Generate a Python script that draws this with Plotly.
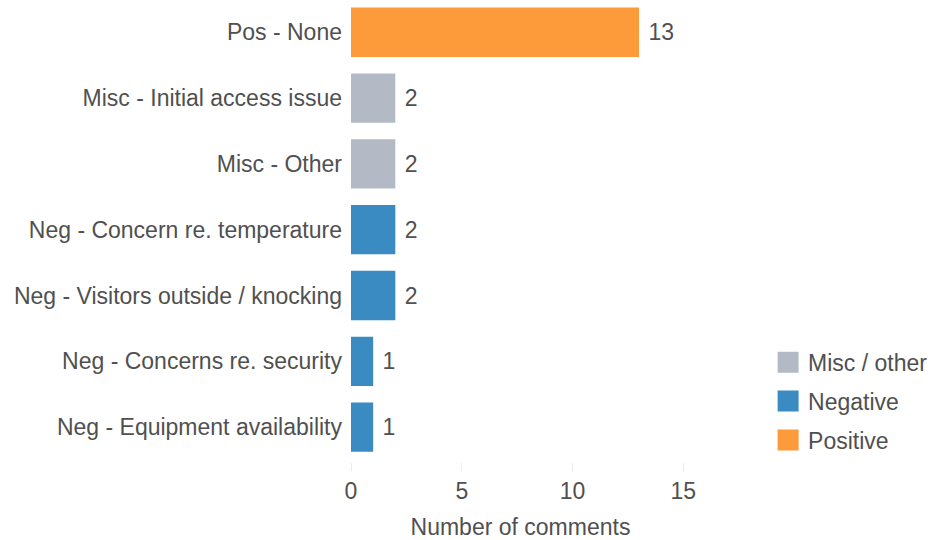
import plotly.graph_objects as go

# Comment themes (bottom to top on the y axis) and how often each was raised
categories = [
    "Neg - Equipment availability",
    "Neg - Concerns re. security",
    "Neg - Visitors outside / knocking",
    "Neg - Concern re. temperature",
    "Misc - Other",
    "Misc - Initial access issue",
    "Pos - None",
]
counts = [1, 1, 2, 2, 2, 2, 13]
groups = ["Negative", "Negative", "Negative", "Negative",
          "Misc / other", "Misc / other", "Positive"]

group_order = ["Misc / other", "Negative", "Positive"]
group_colors = {"Misc / other": "#b4bac5", "Negative": "#3a8bc1", "Positive": "#fd9a3a"}

x_ticks = [0, 5, 10, 15]

FONT = "Liberation Sans, Arial, sans-serif"
TEXT = "#505050"
SIZE = 23

fig = go.Figure()
for g in group_order:
    ys = [c for c, gg in zip(categories, groups) if gg == g]
    xs = [v for v, gg in zip(counts, groups) if gg == g]
    fig.add_trace(go.Bar(
        x=xs, y=ys, orientation="h", name=g, showlegend=False,
        legendgroup=g,
        marker=dict(color=group_colors[g], line=dict(width=0)),
        width=0.75,
        text=[str(v) for v in xs], texttemplate=" %{text}", textposition="outside",
        textfont=dict(size=SIZE, color=TEXT, family=FONT),
        cliponaxis=False,
    ))

# Legend keys: large square swatches, one per group
for g in group_order:
    fig.add_trace(go.Scatter(
        x=[None], y=[None], mode="markers", name=g, legendgroup=g,
        marker=dict(symbol="square", size=16, color=group_colors[g],
                    line=dict(color=group_colors[g], width=5)),
        hoverinfo="skip",
    ))

fig.update_layout(
    width=939, height=540,
    margin=dict(l=351, r=249, t=0, b=78),
    plot_bgcolor="white", paper_bgcolor="white",
    font=dict(family=FONT, size=SIZE, color=TEXT),
    legend=dict(
        xref="container", yref="container",
        x=0.818, y=0.369, xanchor="left", yanchor="top",
        font=dict(size=SIZE, color=TEXT),
        traceorder="grouped", itemsizing="trace",
        tracegroupgap=6,
    ),
    xaxis=dict(
        range=[0, 15.3], tickvals=x_ticks, ticktext=[str(t) for t in x_ticks],
        showgrid=False, zeroline=False, showline=False,
        ticks="outside", ticklen=8, tickcolor="#ebebeb", tickwidth=1,
        tickfont=dict(size=SIZE, color=TEXT),
        title=dict(text="Number of comments", font=dict(size=SIZE, color=TEXT), standoff=18),
    ),
    yaxis=dict(
        type="category", categoryorder="array", categoryarray=categories,
        range=[-0.53, 6.49],
        showgrid=False, zeroline=False, showline=False, ticks="",
        ticklabelstandoff=8,
        tickfont=dict(size=SIZE, color=TEXT),
    ),
)

fig.write_html("out.html")
